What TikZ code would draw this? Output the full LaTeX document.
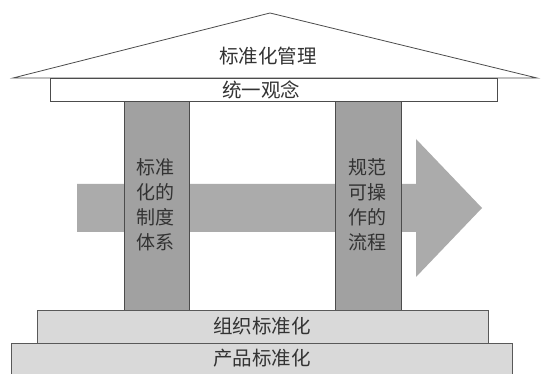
\documentclass[tikz,border=0pt]{standalone}
\usepackage{fontspec}
\newfontfamily\cjk{Noto Sans CJK SC}
\begin{document}
\begin{tikzpicture}[x=1pt,y=-1pt,
  lbl/.style={font=\cjk\fontsize{19.5}{24}\selectfont, text=black!80, inner sep=0pt},
  pillar/.style={draw=black!70, fill=black!37, line width=0.8pt},
  slab/.style={draw=black!65, fill=black!15, line width=0.8pt}]
\useasboundingbox (0,0) rectangle (547,374);
\fill[white] (0,0) rectangle (547,374);
% arrow
\fill[black!33] (77,184) -- (416,184) -- (416,139) -- (482,208) -- (416,277) -- (416,232) -- (77,232) -- cycle;
% roof
\draw[black!70, line width=0.8pt, fill=white] (13,78) -- (270,13) -- (537,78) -- cycle;
\node[lbl] (roof) at (268,56) {标准化管理};
% beam
\draw[black!70, line width=0.8pt, fill=white] (50,78) rectangle (497,101);
\node[lbl] (beam) at (261,90) {统一观念};
% pillars
\draw[pillar] (124,101) rectangle (189,310);
\draw[pillar] (335,101) rectangle (401,310);
\node[lbl, align=center, font=\cjk\fontsize{19}{25}\selectfont] (p1) at (155.5,205) {标准\\化的\\制度\\体系};
\node[lbl, align=center, font=\cjk\fontsize{19}{25}\selectfont] (p2) at (367,205) {规范\\可操\\作的\\流程};
% base slabs
\draw[slab] (37,310) rectangle (488,343);
\node[lbl] (org) at (262,326) {组织标准化};
\draw[slab] (11,343) rectangle (512,374);
\node[lbl] (prod) at (262,358) {产品标准化};
\end{tikzpicture}
\end{document}
